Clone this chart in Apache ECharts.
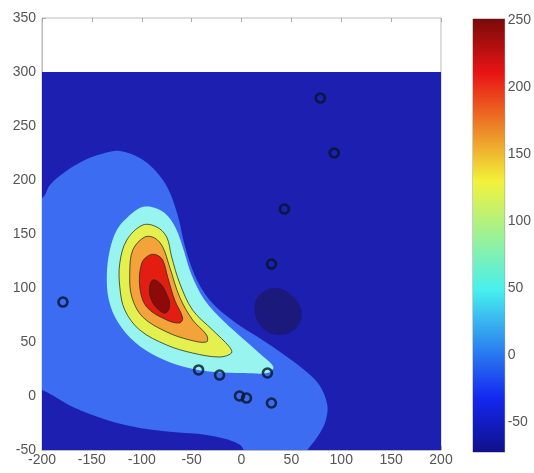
<!DOCTYPE html>
<html>
<head>
<meta charset="utf-8">
<script src="https://cdn.jsdelivr.net/npm/echarts@6/dist/echarts.min.js"></script>
<style>
  html, body { margin: 0; padding: 0; background: #fff; }
  #chart { width: 534px; height: 473px; }
</style>
</head>
<body>
<div id="chart"></div>
<script>
// axis ranges
var xRange = [-200, 200];
var yRange = [-50, 350];
var fieldTop = 300;               // no data above this line (white strip)
var colorRange = [-72, 251];      // colorbar extent
var colorTicks = [-50, 0, 50, 100, 150, 200, 250];

// filled contour outlines [x, y], outermost first
var lowBlob = [
  [35, 100], [50, 93.5], [60, 79.6], [56, 63.9], [38, 56.5], [20, 63.9], [13, 82.4], [20, 95.4]
];
var blueBand = [
  [-200, 183.3], [-192, 195.4], [-177, 207.4], [-157, 218.5], [-137, 225], [-122, 226.9],
  [-102, 220.4], [-87, 209.3], [-74, 192.6], [-64, 167.6], [-57, 139.8], [-47, 112],
  [-32, 88.9], [-7, 68.5], [18, 53.7], [43, 38], [63, 24], [78, 10.2], [86, -8.3],
  [84, -24], [76, -38], [66, -50], [56, -62], [10, -62], [-2, -45], [-35, -36.1], [-69, -33.3],
  [-102, -29.6], [-135, -22.2], [-169, -10.2], [-200, 5.6], [-228, 12], [-228, 178]
];
var cyanBand = [
  [-102, 174.1], [-115, 164.8], [-125, 153.7], [-132, 135.2], [-135, 112], [-133, 88.9],
  [-124, 68.5], [-107, 50], [-84, 36.1], [-57, 26.9], [-27, 22.2], [3, 21.3], [26, 21.3],
  [32, 26.9], [20, 38], [3, 51.9], [-17, 68.5], [-37, 88.9], [-50, 112], [-58, 135.2],
  [-66, 155.6], [-77, 169.4], [-90, 175]
];
var yellowBand = [
  [-99, 158.3], [-115, 144.4], [-122, 123.1], [-122, 100.9], [-117, 79.6], [-102, 61.1],
  [-75, 47.2], [-49, 39.8], [-22, 36.1], [-10, 39.8], [-12, 45.4], [-29, 61.1], [-49, 79.6],
  [-62, 104.6], [-70, 128.7], [-75, 147.2], [-85, 156.5]
];
var orangeBand = [
  [-97, 147.2], [-109, 135.2], [-112, 113.9], [-110, 91.7], [-99, 73.1], [-75, 59.3],
  [-52, 51.9], [-35, 50], [-35, 56.5], [-49, 70.4], [-62, 91.7], [-72, 119.4], [-79, 138],
  [-87, 146.3]
];
var redBand = [
  [-92, 130.6], [-100, 123.1], [-102, 100.9], [-95, 82.4], [-75, 70.4], [-62, 67.6],
  [-59, 72.2], [-67, 88.9], [-74, 110.2], [-79, 125.9], [-85, 130.6]
];
var peakBand = [
  [-89, 107.4], [-82, 104.6], [-76, 96.3], [-72, 84.3], [-76, 76.9], [-84, 80.6], [-91, 90.7], [-92, 100.9]
];

// measurement points (circles)
var stations = [
  [-179, 87], [79, 275.9], [93, 225], [43, 173.1], [30, 122.2], [-43, 24.1],
  [-22, 19.4], [26, 21.3], [-2, 0], [5, -1.9], [30, -6.5]
];

var fieldBox = [[xRange[0], yRange[0]], [xRange[1], yRange[0]], [xRange[1], fieldTop], [xRange[0], fieldTop]];

var chart = echarts.init(document.getElementById('chart'));

function band(points, fill, stroke, smooth) {
  return {
    type: 'custom',
    xAxisIndex: 0,
    yAxisIndex: 0,
    clip: true,
    silent: true,
    data: [[0, 0]],
    renderItem: function (params, api) {
      return {
        type: 'polygon',
        shape: { points: points.map(function (p) { return api.coord(p); }), smooth: smooth },
        style: { fill: fill, stroke: stroke || null, lineWidth: 1 }
      };
    }
  };
}

var lineCol = 'rgba(25,45,25,0.75)';
var labelStyle = { color: '#555', fontSize: 14, fontFamily: 'Liberation Sans, Arial, sans-serif' };

var option = {
  animation: false,
  backgroundColor: '#fff',
  grid: [
    { left: 42, top: 18, width: 399, height: 432, show: true, backgroundColor: '#fff', borderColor: '#bbb', borderWidth: 1 },
    { left: 473, top: 19, width: 32, height: 433, show: true, borderColor: '#999', borderWidth: 1 }
  ],
  xAxis: [
    {
      gridIndex: 0, type: 'value', min: xRange[0], max: xRange[1], interval: 50,
      axisLine: { show: true, onZero: false, lineStyle: { color: '#bbb' } },
      axisTick: { inside: true, length: 4, lineStyle: { color: '#aaa' } },
      axisLabel: Object.assign({ margin: 3 }, labelStyle),
      splitLine: { show: false }
    },
    {
      gridIndex: 0, type: 'value', position: 'top', min: xRange[0], max: xRange[1], interval: 50,
      axisLine: { show: false, onZero: false },
      axisTick: { inside: true, length: 4, lineStyle: { color: '#aaa' } },
      axisLabel: { show: false }, splitLine: { show: false }
    },
    { gridIndex: 1, type: 'value', min: 0, max: 1, show: false }
  ],
  yAxis: [
    {
      gridIndex: 0, type: 'value', min: yRange[0], max: yRange[1], interval: 50,
      axisLine: { show: true, onZero: false, lineStyle: { color: '#bbb' } },
      axisTick: { inside: true, length: 4, lineStyle: { color: '#aaa' } },
      axisLabel: Object.assign({ margin: 6 }, labelStyle),
      splitLine: { show: false }
    },
    {
      gridIndex: 1, type: 'value', position: 'right', min: colorRange[0], max: colorRange[1],
      axisLine: { show: true, onZero: false, lineStyle: { color: '#999' } },
      axisTick: { inside: true, length: 4, customValues: colorTicks, lineStyle: { color: '#777' } },
      axisLabel: Object.assign({ margin: 3, customValues: colorTicks }, labelStyle),
      splitLine: { show: false }
    }
  ],
  series: [
    band(fieldBox, '#1d1fb0', null, 0),
    band(lowBlob, '#1b1a7c', null, 0.4),
    band(blueBand, '#3c6cf2', null, 0.35),
    band(cyanBand, '#98f4ee', null, 0.35),
    band(yellowBand, '#e4f04e', lineCol, 0.35),
    band(orangeBand, '#f4a23a', lineCol, 0.35),
    band(redBand, '#e41d12', lineCol, 0.35),
    band(peakBand, '#8e0a0a', lineCol, 0.4),
    {
      type: 'scatter',
      xAxisIndex: 0, yAxisIndex: 0,
      data: stations,
      symbol: 'circle',
      symbolSize: 9,
      silent: true,
      z: 5,
      itemStyle: { color: 'rgba(0,0,0,0)', borderColor: '#071428', borderWidth: 2.6 }
    },
    {
      type: 'custom',
      xAxisIndex: 2, yAxisIndex: 1,
      silent: true,
      data: [[0, colorRange[0]]],
      renderItem: function (params, api) {
        var a = api.coord([0, colorRange[0]]);
        var b = api.coord([1, colorRange[1]]);
        return {
          type: 'rect',
          shape: { x: a[0], y: b[1], width: b[0] - a[0], height: a[1] - b[1] },
          style: {
            fill: new echarts.graphic.LinearGradient(0, 1, 0, 0, [
              { offset: 0, color: '#10108a' },
              { offset: 0.125, color: '#1428f0' },
              { offset: 0.375, color: '#48f0ee' },
              { offset: 0.625, color: '#f2f23a' },
              { offset: 0.875, color: '#e81414' },
              { offset: 1, color: '#7a0a0a' }
            ])
          }
        };
      }
    }
  ]
};

chart.setOption(option);
</script>
</body>
</html>
